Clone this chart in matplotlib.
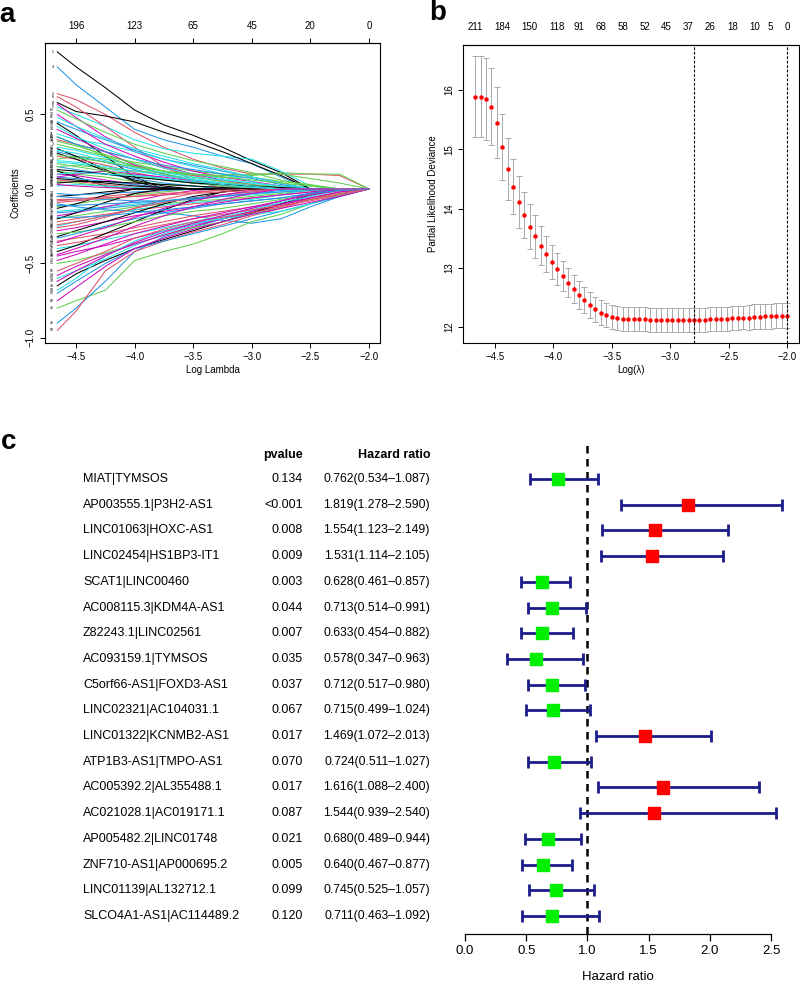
import matplotlib
matplotlib.use("Agg")
import matplotlib.pyplot as plt
from matplotlib.transforms import blended_transform_factory

plt.rcParams["font.family"] = ["Liberation Sans", "DejaVu Sans"]

# ---- panel a: lasso coefficient paths (read at a few log-lambda knots) ----
knots = [-4.66, -4.5, -4.25, -4.0, -3.75, -3.5, -3.25, -3.0, -2.75, -2.5, -2.25, -2.0]
coef_paths = [
    [0.92, 0.82, 0.68, 0.53, 0.43, 0.36, 0.28, 0.19, 0.11, 0.0, 0.0, 0.0],
    [0.64, 0.60, 0.50, 0.38, 0.28, 0.20, 0.14, 0.10, 0.10, 0.10, 0.09, 0.0],
    [0.30, 0.27, 0.22, 0.18, 0.15, 0.12, 0.10, 0.09, 0.11, 0.10, 0.10, 0.0],
    [0.82, 0.70, 0.55, 0.40, 0.33, 0.28, 0.22, 0.17, 0.08, 0.0, 0.0, 0.0],
    [0.55, 0.50, 0.42, 0.33, 0.27, 0.24, 0.22, 0.20, 0.12, 0.02, 0.0, 0.0],
    [0.57, 0.48, 0.35, 0.25, 0.18, 0.12, 0.08, 0.05, 0.02, 0.0, 0.0, 0.0],
    [0.58, 0.52, 0.49, 0.45, 0.38, 0.32, 0.25, 0.17, 0.09, 0.0, 0.0, 0.0],
    [0.62, 0.55, 0.42, 0.28, 0.15, 0.06, 0.0, 0.0, 0.0, 0.0, 0.0, 0.0],
    [0.20, 0.22, 0.20, 0.16, 0.12, 0.09, 0.08, 0.08, 0.05, 0.03, 0.0, 0.0],
    [0.45, 0.40, 0.33, 0.26, 0.20, 0.16, 0.12, 0.08, 0.04, 0.0, 0.0, 0.0],
    [0.37, 0.33, 0.30, 0.25, 0.20, 0.15, 0.10, 0.05, 0.0, 0.0, 0.0, 0.0],
    [0.50, 0.42, 0.30, 0.22, 0.15, 0.10, 0.06, 0.03, 0.0, 0.0, 0.0, 0.0],
    [0.44, 0.36, 0.22, 0.08, 0.0, 0.0, 0.0, 0.0, 0.0, 0.0, 0.0, 0.0],
    [0.33, 0.30, 0.25, 0.20, 0.14, 0.09, 0.05, 0.02, 0.0, 0.0, 0.0, 0.0],
    [0.12, 0.10, 0.08, 0.05, 0.03, 0.02, 0.0, 0.0, 0.0, 0.0, 0.0, 0.0],
    [0.25, 0.22, 0.18, 0.13, 0.09, 0.06, 0.03, 0.0, 0.0, 0.0, 0.0, 0.0],
    [0.28, 0.26, 0.21, 0.15, 0.10, 0.07, 0.04, 0.02, 0.0, 0.0, 0.0, 0.0],
    [0.40, 0.34, 0.25, 0.16, 0.10, 0.05, 0.02, 0.0, 0.0, 0.0, 0.0, 0.0],
    [0.27, 0.22, 0.13, 0.05, 0.0, 0.0, 0.0, 0.0, 0.0, 0.0, 0.0, 0.0],
    [0.22, 0.20, 0.16, 0.11, 0.07, 0.04, 0.02, 0.0, 0.0, 0.0, 0.0, 0.0],
    [0.35, 0.30, 0.22, 0.15, 0.10, 0.06, 0.03, 0.0, 0.0, 0.0, 0.0, 0.0],
    [0.15, 0.13, 0.10, 0.07, 0.04, 0.02, 0.0, 0.0, 0.0, 0.0, 0.0, 0.0],
    [0.18, 0.17, 0.14, 0.10, 0.07, 0.04, 0.02, 0.0, 0.0, 0.0, 0.0, 0.0],
    [0.10, 0.09, 0.06, 0.03, 0.0, 0.0, 0.0, 0.0, 0.0, 0.0, 0.0, 0.0],
    [0.12, 0.08, 0.02, 0.0, 0.0, 0.0, 0.0, 0.0, 0.0, 0.0, 0.0, 0.0],
    [0.06, 0.05, 0.03, 0.01, 0.0, 0.0, 0.0, 0.0, 0.0, 0.0, 0.0, 0.0],
    [0.05, 0.04, 0.02, 0.0, 0.0, 0.0, 0.0, 0.0, 0.0, 0.0, 0.0, 0.0],
    [0.08, 0.07, 0.05, 0.03, 0.01, 0.0, 0.0, 0.0, 0.0, 0.0, 0.0, 0.0],
    [0.02, 0.03, 0.02, 0.01, 0.0, 0.0, 0.0, 0.0, 0.0, 0.0, 0.0, 0.0],
    [0.03, 0.02, 0.01, 0.0, 0.0, 0.0, 0.0, 0.0, 0.0, 0.0, 0.0, 0.0],
    [-0.05, -0.04, -0.02, 0.0, 0.0, 0.0, 0.0, 0.0, 0.0, 0.0, 0.0, 0.0],
    [-0.08, -0.07, -0.05, -0.03, -0.01, 0.0, 0.0, 0.0, 0.0, 0.0, 0.0, 0.0],
    [-0.12, -0.10, -0.07, -0.04, -0.02, 0.0, 0.0, 0.0, 0.0, 0.0, 0.0, 0.0],
    [-0.03, -0.04, -0.03, -0.02, -0.01, 0.0, 0.0, 0.0, 0.0, 0.0, 0.0, 0.0],
    [-0.15, -0.14, -0.12, -0.10, -0.08, -0.06, -0.05, -0.04, -0.02, 0.0, 0.0, 0.0],
    [-0.18, -0.16, -0.12, -0.08, -0.04, -0.01, 0.0, 0.0, 0.0, 0.0, 0.0, 0.0],
    [-0.13, -0.10, -0.04, 0.0, 0.0, 0.0, 0.0, 0.0, 0.0, 0.0, 0.0, 0.0],
    [-0.22, -0.20, -0.17, -0.14, -0.12, -0.10, -0.08, -0.06, -0.04, -0.02, 0.0, 0.0],
    [-0.20, -0.18, -0.15, -0.12, -0.10, -0.08, -0.07, -0.05, -0.03, -0.01, 0.0, 0.0],
    [-0.10, -0.12, -0.14, -0.15, -0.16, -0.18, -0.21, -0.23, -0.20, -0.12, -0.05, 0.0],
    [-0.25, -0.22, -0.18, -0.14, -0.11, -0.09, -0.08, -0.07, -0.04, 0.0, 0.0, 0.0],
    [-0.28, -0.26, -0.22, -0.18, -0.15, -0.12, -0.09, -0.06, -0.04, -0.02, 0.0, 0.0],
    [-0.32, -0.28, -0.22, -0.16, -0.10, -0.05, -0.02, 0.0, 0.0, 0.0, 0.0, 0.0],
    [-0.35, -0.33, -0.30, -0.26, -0.22, -0.18, -0.15, -0.12, -0.10, -0.07, -0.04, 0.0],
    [-0.80, -0.75, -0.68, -0.48, -0.42, -0.37, -0.30, -0.22, -0.17, -0.10, -0.04, 0.0],
    [-0.90, -0.80, -0.62, -0.42, -0.32, -0.26, -0.20, -0.15, -0.10, -0.05, 0.0, 0.0],
    [-0.40, -0.38, -0.34, -0.30, -0.26, -0.22, -0.18, -0.13, -0.08, -0.03, 0.0, 0.0],
    [-0.45, -0.42, -0.38, -0.33, -0.28, -0.24, -0.20, -0.16, -0.11, -0.06, -0.02, 0.0],
    [-0.65, -0.57, -0.48, -0.40, -0.34, -0.28, -0.22, -0.16, -0.10, -0.04, 0.0, 0.0],
    [-0.95, -0.82, -0.55, -0.42, -0.35, -0.29, -0.24, -0.18, -0.13, -0.07, -0.02, 0.0],
    [-0.50, -0.48, -0.43, -0.37, -0.31, -0.26, -0.22, -0.17, -0.12, -0.07, -0.03, 0.0],
    [-0.70, -0.62, -0.50, -0.40, -0.35, -0.30, -0.25, -0.20, -0.15, -0.10, -0.05, 0.0],
    [-0.60, -0.55, -0.47, -0.38, -0.30, -0.24, -0.19, -0.14, -0.09, -0.05, -0.01, 0.0],
    [-0.58, -0.52, -0.44, -0.37, -0.31, -0.25, -0.20, -0.15, -0.10, -0.06, -0.02, 0.0],
    [-0.42, -0.38, -0.30, -0.22, -0.14, -0.07, -0.02, 0.0, 0.0, 0.0, 0.0, 0.0],
    [-0.55, -0.50, -0.42, -0.33, -0.27, -0.22, -0.19, -0.16, -0.12, -0.07, -0.03, 0.0],
    [-0.30, -0.29, -0.26, -0.22, -0.18, -0.15, -0.13, -0.10, -0.07, -0.04, -0.01, 0.0],
    [-0.05, -0.06, -0.07, -0.08, -0.08, -0.07, -0.05, -0.03, -0.01, 0.0, 0.0, 0.0],
    [-0.68, -0.60, -0.45, -0.35, -0.28, -0.23, -0.20, -0.17, -0.15, -0.10, -0.04, 0.0],
    [-0.75, -0.66, -0.52, -0.40, -0.33, -0.27, -0.22, -0.17, -0.13, -0.09, -0.05, 0.0],
    [-0.20, -0.16, -0.09, -0.03, 0.0, 0.0, 0.0, 0.0, 0.0, 0.0, 0.0, 0.0],
    [-0.38, -0.36, -0.32, -0.28, -0.24, -0.20, -0.17, -0.14, -0.11, -0.08, -0.04, 0.0],
    [0.15, 0.16, 0.14, 0.12, 0.11, 0.10, 0.09, 0.10, 0.10, 0.07, 0.04, 0.0],
    [0.35, 0.30, 0.25, 0.20, 0.16, 0.13, 0.10, 0.07, 0.03, 0.0, 0.0, 0.0],
    [0.48, 0.42, 0.34, 0.27, 0.22, 0.17, 0.13, 0.08, 0.04, 0.0, 0.0, 0.0],
    [0.08, 0.10, 0.12, 0.10, 0.08, 0.05, 0.03, 0.01, 0.0, 0.0, 0.0, 0.0],
    [0.24, 0.20, 0.12, 0.06, 0.02, 0.0, 0.0, 0.0, 0.0, 0.0, 0.0, 0.0],
    [-0.26, -0.24, -0.19, -0.13, -0.07, -0.03, 0.0, 0.0, 0.0, 0.0, 0.0, 0.0],
    [0.17, 0.15, 0.12, 0.09, 0.06, 0.04, 0.02, 0.01, 0.0, 0.0, 0.0, 0.0],
    [-0.16, -0.15, -0.13, -0.11, -0.09, -0.06, -0.04, -0.02, 0.0, 0.0, 0.0, 0.0],
    [0.42, 0.35, 0.27, 0.20, 0.14, 0.10, 0.07, 0.04, 0.02, 0.0, 0.0, 0.0],
    [-0.48, -0.44, -0.37, -0.30, -0.25, -0.20, -0.16, -0.12, -0.08, -0.04, -0.01, 0.0],
    [0.07, 0.06, 0.04, 0.02, 0.01, 0.0, 0.0, 0.0, 0.0, 0.0, 0.0, 0.0],
    [-0.09, -0.08, -0.06, -0.05, -0.03, -0.02, -0.01, 0.0, 0.0, 0.0, 0.0, 0.0],
    [0.32, 0.29, 0.23, 0.17, 0.12, 0.08, 0.05, 0.03, 0.01, 0.0, 0.0, 0.0],
    [-0.33, -0.30, -0.25, -0.20, -0.16, -0.13, -0.10, -0.08, -0.06, -0.03, 0.0, 0.0],
    [0.26, 0.24, 0.19, 0.14, 0.11, 0.08, 0.06, 0.04, 0.02, 0.0, 0.0, 0.0],
    [-0.62, -0.55, -0.45, -0.36, -0.29, -0.23, -0.18, -0.13, -0.08, -0.03, 0.0, 0.0],
    [0.13, 0.12, 0.10, 0.08, 0.06, 0.04, 0.03, 0.02, 0.01, 0.0, 0.0, 0.0],
    [-0.24, -0.22, -0.18, -0.13, -0.09, -0.06, -0.04, -0.02, 0.0, 0.0, 0.0, 0.0],
    [0.53, 0.47, 0.38, 0.30, 0.24, 0.19, 0.15, 0.11, 0.06, 0.02, 0.0, 0.0],
    [-0.11, -0.11, -0.10, -0.09, -0.08, -0.06, -0.05, -0.03, -0.02, -0.01, 0.0, 0.0],
    [0.19, 0.18, 0.15, 0.12, 0.09, 0.06, 0.04, 0.02, 0.0, 0.0, 0.0, 0.0],
    [-0.36, -0.32, -0.26, -0.19, -0.13, -0.08, -0.04, -0.01, 0.0, 0.0, 0.0, 0.0],
    [0.04, 0.05, 0.05, 0.04, 0.03, 0.02, 0.01, 0.0, 0.0, 0.0, 0.0, 0.0],
    [-0.07, -0.07, -0.06, -0.05, -0.04, -0.03, -0.02, -0.01, 0.0, 0.0, 0.0, 0.0],
    [0.23, 0.21, 0.18, 0.15, 0.12, 0.10, 0.08, 0.06, 0.04, 0.02, 0.0, 0.0],
    [-0.19, -0.19, -0.18, -0.16, -0.14, -0.12, -0.10, -0.08, -0.06, -0.03, -0.01, 0.0],
    [0.10, 0.11, 0.10, 0.09, 0.07, 0.05, 0.03, 0.01, 0.0, 0.0, 0.0, 0.0],
    [-0.44, -0.40, -0.33, -0.25, -0.18, -0.12, -0.07, -0.03, 0.0, 0.0, 0.0, 0.0],
]
path_colors = ["#000000", "#DF536B", "#61D04F", "#2297E6", "#28E2E5", "#CD0BBC"]
a_top_ticks = [-4.5, -4.0, -3.5, -3.0, -2.5, -2.0]
a_top_labels = ["196", "123", "65", "45", "20", "0"]

# ---- panel b: cross-validation curve ----
log_lambda = [
    -4.671, -4.624, -4.577, -4.530, -4.484, -4.437, -4.390, -4.343, -4.296, -4.249,
    -4.202, -4.155, -4.108, -4.062, -4.015, -3.968, -3.921, -3.874, -3.827, -3.780,
    -3.734, -3.687, -3.640, -3.593, -3.546, -3.499, -3.452, -3.405, -3.359, -3.312,
    -3.265, -3.218, -3.171, -3.124, -3.077, -3.030, -2.984, -2.937, -2.890, -2.843,
    -2.796, -2.749, -2.702, -2.655, -2.609, -2.562, -2.515, -2.468, -2.421, -2.374,
    -2.327, -2.280, -2.233, -2.187, -2.140, -2.093, -2.046, -2.000,
]
deviance = [
    15.89, 15.89, 15.85, 15.72, 15.45, 15.04, 14.67, 14.37, 14.11, 13.89,
    13.69, 13.53, 13.37, 13.23, 13.10, 12.98, 12.86, 12.75, 12.64, 12.54,
    12.45, 12.37, 12.30, 12.24, 12.20, 12.17, 12.15, 12.14, 12.13, 12.13,
    12.13, 12.13, 12.12, 12.12, 12.12, 12.12, 12.12, 12.12, 12.12, 12.12,
    12.12, 12.12, 12.12, 12.13, 12.13, 12.14, 12.14, 12.15, 12.15, 12.16,
    12.16, 12.17, 12.17, 12.18, 12.18, 12.19, 12.19, 12.19,
]
deviance_se = [
    0.69, 0.69, 0.69, 0.65, 0.60, 0.56, 0.52, 0.46, 0.44, 0.39,
    0.38, 0.36, 0.33, 0.31, 0.29, 0.27, 0.26, 0.25, 0.24, 0.23,
    0.22, 0.22, 0.21, 0.21, 0.20, 0.20, 0.20, 0.20, 0.20, 0.20,
    0.20, 0.20, 0.20, 0.20, 0.20, 0.20, 0.20, 0.20, 0.20, 0.20,
    0.20, 0.20, 0.20, 0.20, 0.20, 0.20, 0.20, 0.20, 0.20, 0.20,
    0.21, 0.21, 0.21, 0.21, 0.21, 0.21, 0.21, 0.21,
]
lambda_min = -2.796
lambda_1se = -2.000
nzero_index = [0, 5, 10, 15, 19, 23, 27, 31, 35, 39, 43, 47, 51, 54, 57]
nzero_labels = ["211", "184", "150", "118", "91", "68", "58", "52", "45",
                "37", "26", "18", "10", "5", "0"]

# ---- panel c: forest plot ----
genes = [
    "MIAT|TYMSOS", "AP003555.1|P3H2-AS1", "LINC01063|HOXC-AS1",
    "LINC02454|HS1BP3-IT1", "SCAT1|LINC00460", "AC008115.3|KDM4A-AS1",
    "Z82243.1|LINC02561", "AC093159.1|TYMSOS", "C5orf66-AS1|FOXD3-AS1",
    "LINC02321|AC104031.1", "LINC01322|KCNMB2-AS1", "ATP1B3-AS1|TMPO-AS1",
    "AC005392.2|AL355488.1", "AC021028.1|AC019171.1", "AP005482.2|LINC01748",
    "ZNF710-AS1|AP000695.2", "LINC01139|AL132712.1", "SLCO4A1-AS1|AC114489.2",
]
pvalues = ["0.134", "<0.001", "0.008", "0.009", "0.003", "0.044", "0.007", "0.035",
           "0.037", "0.067", "0.017", "0.070", "0.017", "0.087", "0.021", "0.005",
           "0.099", "0.120"]
hr = [0.762, 1.819, 1.554, 1.531, 0.628, 0.713, 0.633, 0.578, 0.712,
      0.715, 1.469, 0.724, 1.616, 1.544, 0.680, 0.640, 0.745, 0.711]
hr_low = [0.534, 1.278, 1.123, 1.114, 0.461, 0.514, 0.454, 0.347, 0.517,
          0.499, 1.072, 0.511, 1.088, 0.939, 0.489, 0.467, 0.525, 0.463]
hr_high = [1.087, 2.590, 2.149, 2.105, 0.857, 0.991, 0.882, 0.963, 0.980,
           1.024, 2.013, 1.027, 2.400, 2.540, 0.944, 0.877, 1.057, 1.092]

W, H = 800, 983


def px_axes(fig, left, top, right, bottom):
    return fig.add_axes([left / W, 1 - bottom / H, (right - left) / W, (bottom - top) / H])


def r_style(ax):
    for sp in ax.spines.values():
        sp.set_linewidth(0.8)
    ax.tick_params(direction="out", length=3.5, width=0.7, labelsize=7, pad=3)
    ax.tick_params(axis="y", labelrotation=90)
    for lab in ax.get_yticklabels():
        lab.set_va("center")


fig = plt.figure(figsize=(W / 100, H / 100), dpi=100)

# panel a
ax = px_axes(fig, 45, 43, 380, 343)
for i, path in enumerate(coef_paths):
    ax.plot(knots, path, color=path_colors[i % 6], lw=0.75)
    ax.text(-4.69, path[0], str(i + 1), fontsize=2.5, ha="right", va="center")
ax.set_xlim(-4.765, -1.906)
ax.set_ylim(-1.034, 0.98)
ax.set_xticks(a_top_ticks)
ax.set_yticks([-1.0, -0.5, 0.0, 0.5])
r_style(ax)
ax.set_xlabel("Log Lambda", fontsize=7, labelpad=2)
ax.set_ylabel("Coefficients", fontsize=7, labelpad=4)
top = ax.secondary_xaxis("top")
top.set_xticks(a_top_ticks)
top.set_xticklabels(a_top_labels)
top.tick_params(direction="out", length=3.5, width=0.7, labelsize=7, pad=5)
fig.text(7 / W, 1 - 15 / H, "a", fontsize=20, fontweight="bold", ha="center", va="center")

# panel b
ax = px_axes(fig, 463, 45, 799, 343)
ax.errorbar(log_lambda, deviance, yerr=deviance_se, fmt="none", ecolor="#A9A9A9",
            elinewidth=0.7, capsize=2.5, capthick=0.7)
ax.plot(log_lambda, deviance, "o", color="#FF0000", markersize=3.2, markeredgewidth=0)
ax.axvline(lambda_min, color="black", lw=0.8, ls=(0, (2.5, 1.5)))
ax.axvline(lambda_1se, color="black", lw=0.8, ls=(0, (2.5, 1.5)))
ax.set_xlim(-4.774, -1.897)
ax.set_ylim(11.73, 16.76)
ax.set_xticks([-4.5, -4.0, -3.5, -3.0, -2.5, -2.0])
ax.set_yticks([12, 13, 14, 15, 16])
r_style(ax)
ax.set_xlabel("Log(λ)", fontsize=7, labelpad=2)
ax.set_ylabel("Partial Likelihood Deviance", fontsize=7, labelpad=4)
top = ax.secondary_xaxis("top")
top.set_xticks([log_lambda[k] for k in nzero_index])
top.set_xticklabels(nzero_labels)
top.tick_params(length=0, labelsize=7, pad=9)
fig.text(438 / W, 1 - 13 / H, "b", fontsize=20, fontweight="bold", ha="center", va="center")

# panel c
ax = px_axes(fig, 465, 440, 771, 934)
rows = list(range(len(genes)))
ax.set_xlim(0, 2.5)
ax.set_ylim(17.70, -1.52)
ax.axvline(1.0, color="black", lw=1.8, ls=(0, (3, 2.2)), zorder=1)
ax.errorbar(hr, rows, xerr=[[h - l for h, l in zip(hr, hr_low)],
                            [u - h for h, u in zip(hr, hr_high)]],
            fmt="none", ecolor="#1C1C8C", elinewidth=2, capsize=4.5, capthick=2,
            clip_on=False, zorder=2)
box_colors = ["#FF0000" if h > 1 else "#00EE00" for h in hr]
ax.scatter(hr, rows, marker="s", s=75, c=box_colors, zorder=3, clip_on=False)
for sp in ["left", "top", "right"]:
    ax.spines[sp].set_visible(False)
ax.spines["bottom"].set_bounds(0, 2.5)
ax.spines["bottom"].set_linewidth(0.9)
ax.set_yticks([])
ax.set_xticks([0.0, 0.5, 1.0, 1.5, 2.0, 2.5])
ax.set_xticklabels(["0.0", "0.5", "1.0", "1.5", "2.0", "2.5"])
ax.tick_params(axis="x", direction="out", length=5, width=0.9, labelsize=9.5, pad=3)
ax.set_xlabel("Hazard ratio", fontsize=9.5, labelpad=10)

tr = blended_transform_factory(fig.transFigure, ax.transData)
ax.text(303 / W, -0.93, "pvalue", transform=tr, fontsize=9, fontweight="bold",
        ha="right", va="center")
ax.text(430 / W, -0.93, "Hazard ratio", transform=tr, fontsize=9, fontweight="bold",
        ha="right", va="center")
for i, g in enumerate(genes):
    ax.text(83 / W, i, g, transform=tr, fontsize=9.0, ha="left", va="center")
    ax.text(303 / W, i, pvalues[i], transform=tr, fontsize=9.0, ha="right", va="center")
    ax.text(430 / W, i, f"{hr[i]:.3f}({hr_low[i]:.3f}\u2013{hr_high[i]:.3f})",
            transform=tr, fontsize=8.8, ha="right", va="center")
fig.text(9 / W, 1 - 442 / H, "c", fontsize=20, fontweight="bold", ha="center", va="center")

fig.savefig("out.png", dpi=100)
